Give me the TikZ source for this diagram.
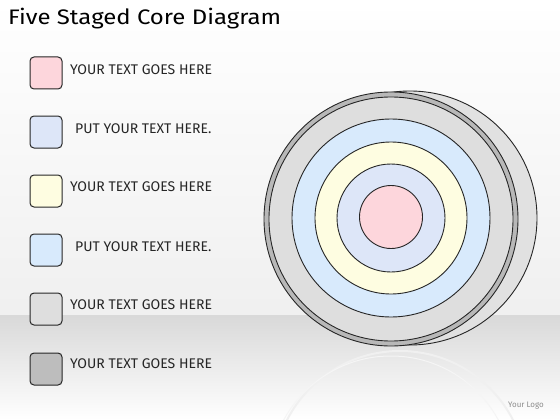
\documentclass[tikz,border=0pt]{standalone}
\usepackage{fontspec}
\setmainfont{Fira Sans}
\definecolor{cpink}{HTML}{FDD6DC}
\definecolor{clav}{HTML}{DDE6F8}
\definecolor{cyel}{HTML}{FEFDE1}
\definecolor{cblue}{HTML}{D8EAFC}
\definecolor{cgray}{HTML}{DEDEDE}
\definecolor{cdgray}{HTML}{BDBDBD}
\definecolor{crim}{HTML}{B8B8B8}
\definecolor{cline}{HTML}{262626}
\tikzset{
  legbox/.style={draw=cline, line width=1pt, rounded corners=4pt, minimum size=32pt, inner sep=0pt},
  legtext/.style={anchor=west, font=\fontsize{14}{14}\selectfont, inner sep=0pt, text=black!85},
  ringline/.style={draw=cline, line width=0.9pt}
}
\begin{document}
\begin{tikzpicture}[x=1pt,y=1pt]
\useasboundingbox (0,0) rectangle (560,-420);
% background
\shade[top color=white, bottom color=black!6] (0,0) rectangle (560,-315);
\shade[top color=black!15, bottom color=white] (0,-315) rectangle (560,-420);
% reflection
\begin{scope}
\clip (0,-316) rectangle (560,-420);
\draw[black!6, line width=2pt] (400,-478) circle (127);
\draw[black!4, line width=1pt] (391,-478) circle (122);
\end{scope}
% title
\node[anchor=west, font=\fontsize{21}{21}\selectfont, inner sep=0pt] (title) at (8,-19) {\scalebox{1.14}[1]{Five Staged Core Diagram}};
% back disc
\fill[cgray!90!white] (410,-218) circle (127);
\draw[ringline] (410,-218) circle (127);
% front disc with rim
\fill[crim] (391,-219) circle (127);
\draw[ringline] (391,-219) circle (127);
\fill[cgray] (391,-219) circle (122);
\draw[ringline] (391,-219) circle (122);
\fill[cblue] (391,-218) circle (99);
\draw[ringline] (391,-218) circle (99);
\fill[cyel] (391,-218) circle (76);
\draw[ringline] (391,-218) circle (76);
\fill[clav] (391,-218) circle (54);
\draw[ringline] (391,-218) circle (54);
\fill[cpink] (391,-217) circle (31.5);
\draw[ringline] (391,-217) circle (31.5);
% legend
\node[legbox, fill=cpink] (b1) at (46,-73) {};
\node[legtext] (t1) at (70,-70) {YOUR TEXT GOES HERE};
\node[legbox, fill=clav] (b2) at (46,-132) {};
\node[legtext] (t2) at (75,-129) {PUT YOUR TEXT HERE.};
\node[legbox, fill=cyel] (b3) at (46,-191) {};
\node[legtext] (t3) at (70,-187) {YOUR TEXT GOES HERE};
\node[legbox, fill=cblue] (b4) at (46,-250) {};
\node[legtext] (t4) at (75,-247) {PUT YOUR TEXT HERE.};
\node[legbox, fill=cgray] (b5) at (46,-309) {};
\node[legtext] (t5) at (70,-305) {YOUR TEXT GOES HERE};
\node[legbox, fill=cdgray] (b6) at (46,-369) {};
\node[legtext] (t6) at (70,-364) {YOUR TEXT GOES HERE};
% logo
\node[font=\fontsize{8}{8}\selectfont, text=black!45, inner sep=0pt] (logo) at (526,-406) {Your Logo};
\end{tikzpicture}
\end{document}
